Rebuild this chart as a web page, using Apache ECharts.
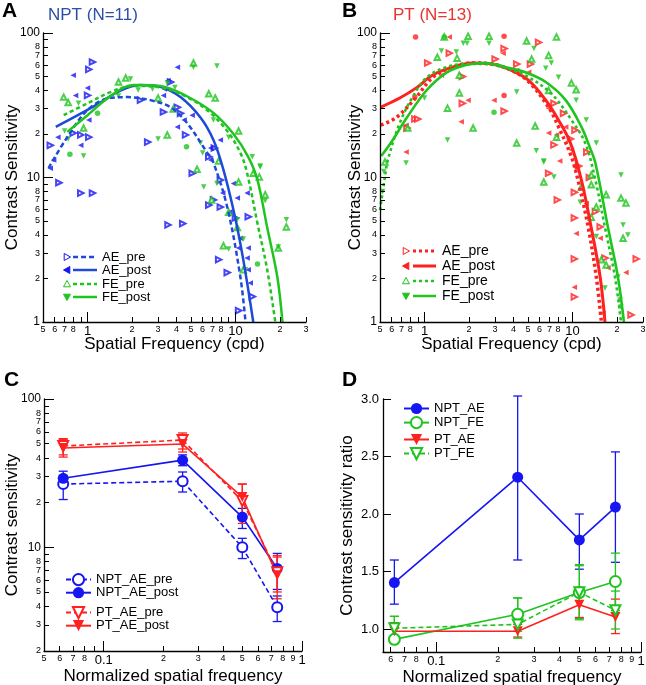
<!DOCTYPE html>
<html><head><meta charset="utf-8">
<script src="https://cdn.jsdelivr.net/npm/echarts@6/dist/echarts.min.js"></script>
<style>html,body{margin:0;padding:0;background:#fff}#c{width:646px;height:685px}</style>
</head><body><div id="c"></div><script>
// ---------------- DATA ----------------
// Panel A (NPT): [spatial frequency (cpd), contrast sensitivity]
const A_AE_pre = [[1.08,63],[1.02,56],[1.0,37],[0.56,16.7],[0.80,20.3],[0.9,19.7],[1.02,19],[2.28,34.3],[2.55,17.6],[3.26,28.4],[3.64,45.8],[4.05,30.6],[4.25,27.8],[4.6,19.7],[6.6,13.9],[0.64,9.2],[0.9,7.8],[1.08,7.8],[3.5,4.7],[4.4,4.8],[5.1,10.7],[6.6,6.45],[7.1,7],[7.9,6.25],[7.7,2.7],[8.8,2.2],[10,5.25],[10.5,1.2],[12.2,5.35],[13,1.5],[7.9,9.6],[7.2,16]];
const A_AE_post = [[0.8,51],[0.83,37],[1.0,41.7],[1.02,25],[0.9,16.7],[0.63,19],[4.05,58],[3.5,47],[3.26,37],[4.05,22.4],[5.1,27],[6.8,16],[7.9,18.2],[6.8,13.2],[8.2,7.8],[9.2,5.8],[9.7,9.1],[10.3,7.2],[10.5,3.25],[10.8,3.8],[12,7.8],[12.2,3.25],[12,2.77],[12.2,2.3],[12.6,1.86],[0.56,11.6],[0.59,13.2],[4.5,25],[3.3,41]];
const A_FE_pre = [[0.69,36],[0.74,33],[0.94,22],[1.62,45.8],[1.81,48.8],[3.0,35.5],[3.46,19.7],[3.8,29.8],[5.2,62],[6.6,38],[7.3,35.5],[10.5,21],[5.5,11.4],[6.9,7],[8.3,3.37],[9.0,5.75],[10.3,4.5],[10.5,9.3],[11.3,2.3],[13.2,10.7],[14.5,10.1],[15.9,7.6],[22.1,4.55],[19.5,3.25],[7.7,13]];
const A_FE_post = [[0.70,21],[0.74,18.5],[0.94,14.1],[0.87,32.6],[1.62,36.6],[1.95,48],[2.2,40.4],[2.75,41],[3.0,18.5],[3.46,45],[5.2,58],[7.5,59],[5.8,17.3],[6.0,14.8],[7.1,25],[9.0,19],[13,13.9],[14.7,12],[6.1,8.6],[7.5,9.1],[9.0,3.2],[10.3,5.1],[11.3,3.75],[11.7,2.3],[14.7,11.8],[15.9,6.9],[22.1,5.1],[19.5,3.3],[3.9,42]];
const A_FE_dots = [[1.17,27.8],[0.76,14.5],[4.67,16.3],[14.1,2.52]];
// fitted curves
const A_fit_AE_pre = [[0.545,11.6],[0.71,18.2],[1,29.3],[1.43,35.6],[1.86,36],[2.66,34.3],[3.64,30.6],[4.7,23.9],[6.46,14.8],[7.0,13.2],[8.8,6.25],[10.8,2.05],[11.7,1]];
const A_fit_AE_post = [[0.61,22.4],[0.86,27],[1.22,33],[1.67,40],[2.28,43.7],[3.1,42.4],[4.25,36],[5.8,26],[7.1,18.2],[8.2,11.8],[9.7,5.95],[11.3,2.7],[13.2,1]];
const A_fit_FE_pre = [[0.69,27],[1,32.6],[1.43,39],[2.05,43],[3.1,42],[4.7,36],[6.5,29],[8.8,21],[10.8,14.8],[12,10.7],[14.1,4.8],[16.4,2.3],[18.6,1]];
const A_fit_FE_post = [[0.73,20.7],[1,27],[1.4,36],[2.05,43.7],[3.1,43],[4.7,36.5],[7.1,28],[9.7,20],[12.2,13.9],[14.1,9.6],[16.4,4.5],[19.2,2.05],[20.8,1]];

// Panel B (PT)
const B_AE_pre = [[1.05,62],[1.47,72.5],[1.8,50],[0.86,25.4],[0.9,25.4],[1.8,32.6],[3.0,66],[3.45,78],[3.45,28.8],[4.2,61],[5.2,61],[5.9,86],[7.5,32.6],[8.7,27.8],[9.7,18.5],[10.4,21.3],[7.5,16.8],[0.76,22],[6.9,10.7],[7.9,7],[10.3,7.9],[10.3,5.25],[10.3,2.73],[10.3,1.49],[14.3,5.8],[15.4,4.55],[16.6,2.77],[27,2.73],[24.9,1.12],[12.5,15],[11,12],[13,10]];
const B_AE_post = [[1.47,94],[1.3,51],[1.97,34.3],[1.77,24.3],[0.75,15],[2.95,34.3],[3.4,72.5],[5.06,53.5],[6.9,30.2],[6.9,20.3],[7.8,19.7],[9,22.4],[9.85,15.5],[10.4,11.8],[11.5,8.4],[12.4,6.6],[10.6,4.1],[10.3,1.74],[15.4,3.8],[17.4,2.37],[23,2.2],[16.1,1.15],[0.75,23],[4.2,55],[8.2,13]];
const B_AE_dots = [[0.87,94],[3.45,95],[3.45,37],[0.86,36]];
const B_FE_pre = [[1.36,94],[1.97,95],[2.73,95],[1.22,68],[1.66,67],[1.72,51],[1.43,30.2],[1.72,38.5],[2.13,22],[4.9,88],[5.3,66],[6.9,70],[7.8,94],[6.9,40],[4.2,17.3],[5.6,22.7],[7.8,19],[9.85,45],[10.6,40.5],[6.4,9.3],[11.5,8.6],[13.4,8.9],[13.4,10.4],[14.5,6.25],[16.9,7.6],[13.4,5.3],[15.7,2.7],[16.9,2.48],[21.3,7.2],[23,6.65],[22,3.8],[0.54,12.8],[0.77,22]];
const B_FE_post = [[1.3,75],[1.83,85],[1.94,85],[2.73,85],[1.64,74],[1.0,35.5],[1.43,18.2],[0.75,12.6],[4.2,39],[5.5,78],[7.2,62],[6.6,57],[5.7,15.3],[6.4,13],[8.05,49.5],[10.6,34.3],[12.4,25],[14.5,17.3],[6.4,12.8],[7.5,10.1],[11.3,6.75],[14.5,3.9],[16.6,1.72],[20.3,2.05],[21.3,10.4],[22,4.7],[23.7,4.0],[21,1.42],[21.3,1.27],[0.52,8],[0.53,11]];
const B_FE_dots = [[1.36,94],[2.95,28.3]];
const B_fit_AE_pre = [[0.507,23],[0.65,26.2],[0.88,36],[1.13,49],[1.54,58],[2.1,62],[2.86,61],[3.9,55],[5.06,46],[6.9,30.6],[8.05,22.4],[9.85,13.9],[10.9,9.6],[12.8,4.5],[14.5,2.05],[15.7,1]];
const B_fit_AE_post = [[0.507,30.7],[0.68,35.5],[0.88,41.7],[1.13,51],[1.54,58],[2.1,62],[2.86,61],[3.9,55],[5.06,47],[6.6,34.3],[8.05,25],[9.7,17.3],[11.5,9.6],[13.4,4.5],[15.4,2.05],[16.6,1]];
const B_fit_FE_pre = [[0.5,5.95],[0.54,10.1],[0.565,13.2],[0.68,23.8],[0.83,36],[1.03,49],[1.4,58],[1.91,61],[2.6,61],[3.55,57],[4.8,51],[7.2,38],[9.85,25],[12.2,17.3],[14.3,9.6],[16.6,4.5],[19.4,2.05],[21.3,1]];
const B_fit_FE_post = [[0.51,14.1],[0.61,18.2],[0.76,26],[1.03,40],[1.4,53],[1.91,60],[2.6,62],[3.55,58],[4.8,53.5],[6.6,45.8],[9.0,34.3],[11.5,22.4],[13.1,16.2],[14.3,12.6],[17.4,4.5],[20.3,2.05],[22.3,1]];

// Panel C: normalized spatial frequency vs contrast sensitivity (mean, low, high)
const C_x = [0.0625, 0.25, 0.5, 0.75];
const C_NPT_AE_pre = [26.7, 27.9, 10, 3.94];
const C_NPT_AE_pre_lo = [21, 23.6, 8.4, 3.16];
const C_NPT_AE_pre_hi = [30.5, 32.2, 11.5, 4.7];
const C_NPT_AE_post = [29.2, 38.7, 16, 7.2];
const C_NPT_AE_post_lo = [26, 35.5, 13.4, 5.2];
const C_NPT_AE_post_hi = [32.6, 42, 18.3, 9.1];
const C_PT_AE_pre = [48.2, 52.9, 20.5, 6.8];
const C_PT_AE_pre_lo = [42, 46, 16, 5.0];
const C_PT_AE_pre_hi = [54, 59, 26.7, 8.6];
const C_PT_AE_post = [46.7, 49.7, 21.8, 6.47];
const C_PT_AE_post_lo = [40.6, 43.9, 14.5, 4.5];
const C_PT_AE_post_hi = [53.5, 56, 26.7, 8.8];

// Panel D: contrast sensitivity ratio
const D_x = [0.0625, 0.25, 0.5, 0.75];
const D_NPT_AE = [1.404, 2.32, 1.775, 2.06];
const D_NPT_AE_lo = [1.216, 1.60, 1.52, 1.58];
const D_NPT_AE_hi = [1.60, 3.026, 2.0, 2.54];
const D_NPT_FE = [0.91, 1.128, 1.317, 1.413];
const D_NPT_FE_lo = [0.88, 0.98, 1.09, 1.16];
const D_NPT_FE_hi = [1.11, 1.27, 1.56, 1.66];
const D_PT_AE = [0.98, 0.98, 1.21, 1.105];
const D_PT_AE_lo = [0.92, 0.93, 1.1, 0.96];
const D_PT_AE_hi = [1.055, 1.04, 1.3, 1.26];
const D_PT_FE = [1.006, 1.04, 1.32, 1.163];
const D_PT_FE_lo = [0.9, 0.92, 1.08, 1.0];
const D_PT_FE_hi = [1.11, 1.27, 1.55, 1.33];

// tick label values
const AB_xLabels = [0.5,0.6,0.7,0.8,1,2,3,4,5,6,7,8,10,20,30];
const AB_yLabels = [1,2,3,4,5,6,7,8,10,20,30,40,50,60,70,80,100];
const C_xLabels = [0.05,0.06,0.07,0.08,0.1,0.2,0.3,0.4,0.5,0.6,0.7,0.8,0.9,1];
const C_yLabels = [2,3,4,5,6,7,8,10,20,30,40,50,60,70,80,100];
const D_xLabels = [0.06,0.07,0.08,0.1,0.2,0.3,0.4,0.5,0.6,0.7,0.8,0.9,1];
const D_yLabels = [1.0,1.5,2.0,2.5,3.0];

// ---------------- STYLE ----------------
const FONT = 'Liberation Sans, Arial, Helvetica, sans-serif';
const BLUE_M = '#1616f2', BLUE_L = '#1d4ad8', GREEN = '#1fc41f', RED = '#ff2020';
const L = Math.log10;
const toLog = a => a.map(p => [L(p[0]), L(p[1])]);

function mkTicks(lo, hi) {
  const out = [];
  for (let n = -3; n <= 3; n++) for (let k = 1; k <= 9; k++) {
    const v = k * Math.pow(10, n);
    if (v >= lo * 0.9999 && v <= hi * 1.0001) out.push(v);
  }
  return out;
}
function fmtLog(val) {
  const r = Math.round(val);
  if (Math.abs(val - r) < 1e-6) {
    const v = Math.pow(10, r);
    const t = r >= 0 ? String(Math.round(v)) : v.toFixed(-r);
    return '{a|' + t + '}';
  }
  const n = Math.floor(val + 1e-6);
  const k = Math.round(Math.pow(10, val - n));
  return '{b|' + k + '}';
}
function logAxes(gi, dim, lo, hi, labels, name, nameGap, majFont) {
  const ticks = mkTicks(lo, hi);
  const majors = ticks.filter(v => Math.abs(L(v) - Math.round(L(v))) < 1e-9);
  const base = { type: 'value', gridIndex: gi, min: L(lo) - 1e-9, max: L(hi) + 1e-9,
    position: dim === 'x' ? 'bottom' : 'left', splitLine: { show: false }, z: 5 };
  const main = Object.assign({}, base, {
    axisLine: { show: true, onZero: false, lineStyle: { color: '#000', width: 1.3 } },
    axisTick: { show: true, inside: true, length: 5, customValues: ticks.map(L), lineStyle: { color: '#000', width: 1 } },
    axisLabel: { show: true, customValues: labels.map(L), formatter: fmtLog, margin: 3, color: '#000',
      rich: { a: { fontSize: majFont, fontFamily: FONT, color: '#000' }, b: { fontSize: 9, fontFamily: FONT, color: '#000' } } },
    name: name, nameLocation: 'middle', nameGap: nameGap, nameMoveOverlap: false,
    nameTextStyle: { fontSize: 17, fontFamily: FONT, color: '#000' }
  });
  const maj = Object.assign({}, base, {
    axisLine: { show: false, onZero: false }, axisLabel: { show: false },
    axisTick: { show: true, inside: true, length: 10, customValues: majors.map(L), lineStyle: { color: '#000', width: 1 } }
  });
  return [main, maj];
}

const AX = logAxes(0, 'x', 0.5, 30, AB_xLabels, 'Spatial Frequency (cpd)', 14, 13);
const AY = logAxes(0, 'y', 1, 100, AB_yLabels, 'Contrast Sensitivity', 22, 12);
const BX = logAxes(1, 'x', 0.5, 30, AB_xLabels, 'Spatial Frequency (cpd)', 14, 13);
const BY = logAxes(1, 'y', 1, 100, AB_yLabels, 'Contrast Sensitivity', 16, 12);
const CX = logAxes(2, 'x', 0.05, 1, C_xLabels, 'Normalized spatial frequency', 17, 13);
const CY = logAxes(2, 'y', 2, 100, C_yLabels, 'Contrast sensitivity', 23, 12);
const DX = logAxes(3, 'x', 0.055, 1, D_xLabels, 'Normalized spatial frequency', 17, 13);
const DY = { type: 'value', gridIndex: 3, min: 0.8, max: 3.0, position: 'left', splitLine: { show: false },
  axisLine: { show: true, onZero: false, lineStyle: { color: '#000', width: 1.3 } },
  axisTick: { show: true, inside: true, length: 8, customValues: D_yLabels, lineStyle: { color: '#000' } },
  axisLabel: { customValues: D_yLabels, formatter: v => v.toFixed(1), fontSize: 13, fontFamily: FONT, color: '#000', margin: 4 },
  name: 'Contrast sensitivity ratio', nameLocation: 'middle', nameGap: 27, nameMoveOverlap: false,
  nameTextStyle: { fontSize: 17, fontFamily: FONT, color: '#000' } };

function scat(xi, data, sym, rot, color, empty, size) {
  return { type: 'scatter', xAxisIndex: xi, yAxisIndex: xi, data: toLog(data), silent: true,
    symbol: (empty ? 'empty' : '') + sym, symbolRotate: rot, symbolSize: size || 5.5, z: 2,
    itemStyle: { color: color, borderWidth: empty ? 1 : 0 } };
}
function fit(xi, data, color, dash, width) {
  return { type: 'line', xAxisIndex: xi, yAxisIndex: xi, data: toLog(data), showSymbol: false, smooth: 0.35,
    silent: true, z: 3, lineStyle: { color: color, width: width || 2.5, type: dash || 'solid' } };
}
function meanLine(xi, name, xs, ys, logY, color, dashed, sym, rot, empty, size) {
  return { type: 'line', name: name, xAxisIndex: xi, yAxisIndex: xi,
    data: xs.map((x, i) => [L(x), logY ? L(ys[i]) : ys[i]]),
    symbol: (empty ? 'empty' : '') + sym, symbolRotate: rot, symbolSize: size, showAllSymbol: true, z: 4,
    itemStyle: { color: color, borderWidth: empty ? 1.5 : 0 },
    lineStyle: { color: color, width: 1.6, type: dashed ? [5, 3] : 'solid' } };
}
function errBars(xi, xs, lo, hi, logY, color) {
  return { type: 'custom', xAxisIndex: xi, yAxisIndex: xi, silent: true, z: 3,
    data: xs.map((x, i) => [L(x), logY ? L(lo[i]) : lo[i], logY ? L(hi[i]) : hi[i]]),
    renderItem: function (params, api) {
      const p1 = api.coord([api.value(0), api.value(1)]);
      const p2 = api.coord([api.value(0), api.value(2)]);
      const w = 4.5, st = { stroke: color, lineWidth: 1.3 };
      return { type: 'group', children: [
        { type: 'line', shape: { x1: p1[0], y1: p1[1], x2: p2[0], y2: p2[1] }, style: st },
        { type: 'line', shape: { x1: p1[0] - w, y1: p1[1], x2: p1[0] + w, y2: p1[1] }, style: st },
        { type: 'line', shape: { x1: p2[0] - w, y1: p2[1], x2: p2[0] + w, y2: p2[1] }, style: st }
      ] };
    } };
}

const series = [
  // Panel A
  scat(0, A_AE_pre, 'triangle', -90, BLUE_M, true),
  scat(0, A_AE_post, 'triangle', 90, BLUE_M, false),
  scat(0, A_FE_pre, 'triangle', 0, GREEN, true),
  scat(0, A_FE_post, 'triangle', 180, GREEN, false),
  scat(0, A_FE_dots, 'circle', 0, GREEN, false, 5.5),
  fit(0, A_fit_AE_pre, BLUE_L, [5, 3]),
  fit(0, A_fit_AE_post, BLUE_L, null),
  fit(0, A_fit_FE_pre, GREEN, [4, 3]),
  fit(0, A_fit_FE_post, GREEN, null),
  // Panel B
  scat(1, B_AE_pre, 'triangle', -90, RED, true),
  scat(1, B_AE_post, 'triangle', 90, RED, false),
  scat(1, B_AE_dots, 'circle', 0, RED, false, 5.5),
  scat(1, B_FE_pre, 'triangle', 0, GREEN, true),
  scat(1, B_FE_post, 'triangle', 180, GREEN, false),
  scat(1, B_FE_dots, 'circle', 0, GREEN, false, 5.5),
  fit(1, B_fit_AE_pre, RED, [3, 3], 3.5),
  fit(1, B_fit_AE_post, RED, null, 3),
  fit(1, B_fit_FE_pre, GREEN, [3, 3], 2.6),
  fit(1, B_fit_FE_post, GREEN, null, 2.6),
  // Panel C
  errBars(2, C_x, C_NPT_AE_pre_lo, C_NPT_AE_pre_hi, true, BLUE_M),
  errBars(2, C_x, C_NPT_AE_post_lo, C_NPT_AE_post_hi, true, BLUE_M),
  errBars(2, C_x, C_PT_AE_pre_lo, C_PT_AE_pre_hi, true, RED),
  errBars(2, C_x, C_PT_AE_post_lo, C_PT_AE_post_hi, true, RED),
  meanLine(2, 'NPT_AE_pre', C_x, C_NPT_AE_pre, true, BLUE_M, true, 'circle', 0, true, 10),
  meanLine(2, 'NPT_AE_post', C_x, C_NPT_AE_post, true, BLUE_M, false, 'circle', 0, false, 11),
  meanLine(2, 'PT_AE_pre', C_x, C_PT_AE_pre, true, RED, true, 'triangle', 180, true, 10),
  meanLine(2, 'PT_AE_post', C_x, C_PT_AE_post, true, RED, false, 'triangle', 180, false, 10),
  // Panel D
  errBars(3, D_x, D_NPT_AE_lo, D_NPT_AE_hi, false, BLUE_M),
  errBars(3, D_x, D_NPT_FE_lo, D_NPT_FE_hi, false, GREEN),
  errBars(3, D_x, D_PT_AE_lo, D_PT_AE_hi, false, RED),
  errBars(3, D_x, D_PT_FE_lo, D_PT_FE_hi, false, GREEN),
  meanLine(3, 'NPT_AE', D_x, D_NPT_AE, false, BLUE_M, false, 'circle', 0, false, 11),
  meanLine(3, 'NPT_FE', D_x, D_NPT_FE, false, GREEN, false, 'circle', 0, true, 11),
  meanLine(3, 'PT_AE', D_x, D_PT_AE, false, RED, false, 'triangle', 180, false, 10),
  meanLine(3, 'PT_FE', D_x, D_PT_FE, false, GREEN, true, 'triangle', 180, true, 10)
];

// graphic legends for panels A and B
function tri(dir, cx, cy, s) {
  if (dir === 'up') return [[cx, cy - s], [cx + s, cy + s * 0.8], [cx - s, cy + s * 0.8]];
  if (dir === 'down') return [[cx, cy + s], [cx + s, cy - s * 0.8], [cx - s, cy - s * 0.8]];
  if (dir === 'right') return [[cx + s, cy], [cx - s * 0.8, cy - s], [cx - s * 0.8, cy + s]];
  return [[cx - s, cy], [cx + s * 0.8, cy - s], [cx + s * 0.8, cy + s]];
}
function legendRows(symX, lineX1, lineX2, textX, ys, items, fs) {
  const out = [];
  items.forEach((it, i) => {
    const y = ys[i];
    out.push({ type: 'polygon', shape: { points: tri(it.dir, symX, y, 3.5) },
      style: { fill: it.empty ? '#fff' : it.mc, stroke: it.mc, lineWidth: 1 } });
    out.push({ type: 'line', shape: { x1: lineX1, y1: y, x2: lineX2, y2: y },
      style: { stroke: it.lc, lineWidth: it.w || 2.5, lineDash: it.dash || null } });
    out.push({ type: 'text', x: textX, y: y, style: { text: it.t, fontSize: fs, fontFamily: FONT, fill: '#000', verticalAlign: 'middle' } });
  });
  return out;
}
const legA = legendRows(67, 73, 97, 102, [257, 270, 284, 297], [
  { dir: 'right', empty: true, mc: BLUE_M, lc: BLUE_L, dash: [5, 3], t: 'AE_pre' },
  { dir: 'left', empty: false, mc: BLUE_M, lc: BLUE_L, dash: null, t: 'AE_post' },
  { dir: 'up', empty: true, mc: GREEN, lc: GREEN, dash: [4, 3], t: 'FE_pre' },
  { dir: 'down', empty: false, mc: GREEN, lc: GREEN, dash: null, t: 'FE_post' }], 13);
const legB = legendRows(406, 413, 436, 442, [251, 266, 281, 296], [
  { dir: 'right', empty: true, mc: RED, lc: RED, dash: [3, 3], w: 3.2, t: 'AE_pre' },
  { dir: 'left', empty: false, mc: RED, lc: RED, dash: null, w: 3, t: 'AE_post' },
  { dir: 'up', empty: true, mc: GREEN, lc: GREEN, dash: [3, 3], t: 'FE_pre' },
  { dir: 'down', empty: false, mc: GREEN, lc: GREEN, dash: null, t: 'FE_post' }], 14);

function txt(x, y, t, fs, color, bold) {
  return { type: 'text', x: x, y: y, style: { text: t, fontSize: fs, fontFamily: FONT, fill: color,
    fontWeight: bold ? 'bold' : 'normal', verticalAlign: 'middle' } };
}

const legBase = { orient: 'vertical', padding: 0, itemGap: 0, itemWidth: 25, itemHeight: 14,
  textStyle: { fontSize: 13, fontFamily: FONT, color: '#000' }, selectedMode: false };

const option = {
  animation: false,
  backgroundColor: '#fff',
  grid: [
    { left: 43, top: 33, width: 263, height: 289, outerBoundsMode: 'none' },
    { left: 380, top: 33, width: 263, height: 289, outerBoundsMode: 'none' },
    { left: 44, top: 399, width: 258, height: 252, outerBoundsMode: 'none' },
    { left: 383, top: 399, width: 258, height: 253, outerBoundsMode: 'none' }
  ],
  xAxis: [AX[0], BX[0], CX[0], DX[0], AX[1], BX[1], CX[1], DX[1]],
  yAxis: [AY[0], BY[0], CY[0], DY, AY[1], BY[1], CY[1]],
  legend: [
    Object.assign({}, legBase, { left: 65, top: 573, data: ['NPT_AE_pre', 'NPT_AE_post'] }),
    Object.assign({}, legBase, { left: 65, top: 606, data: ['PT_AE_pre', 'PT_AE_post'] }),
    Object.assign({}, legBase, { left: 403, top: 402, itemGap: 1, data: ['NPT_AE', 'NPT_FE'] }),
    Object.assign({}, legBase, { left: 403, top: 433, itemGap: 1, data: ['PT_AE', 'PT_FE'] })
  ],
  graphic: [].concat(legA, legB, [
    txt(2, 11, 'A', 21, '#000', true),
    txt(342, 11, 'B', 21, '#000', true),
    txt(4, 380, 'C', 21, '#000', true),
    txt(342, 380, 'D', 21, '#000', true),
    txt(48, 15, 'NPT (N=11)', 17, '#2b4ea8', false),
    txt(393, 15, 'PT (N=13)', 17, '#e8322b', false)
  ]),
  series: series
};
const chart = echarts.init(document.getElementById('c'), null, { renderer: 'canvas' });
chart.setOption(option);
</script></body></html>
